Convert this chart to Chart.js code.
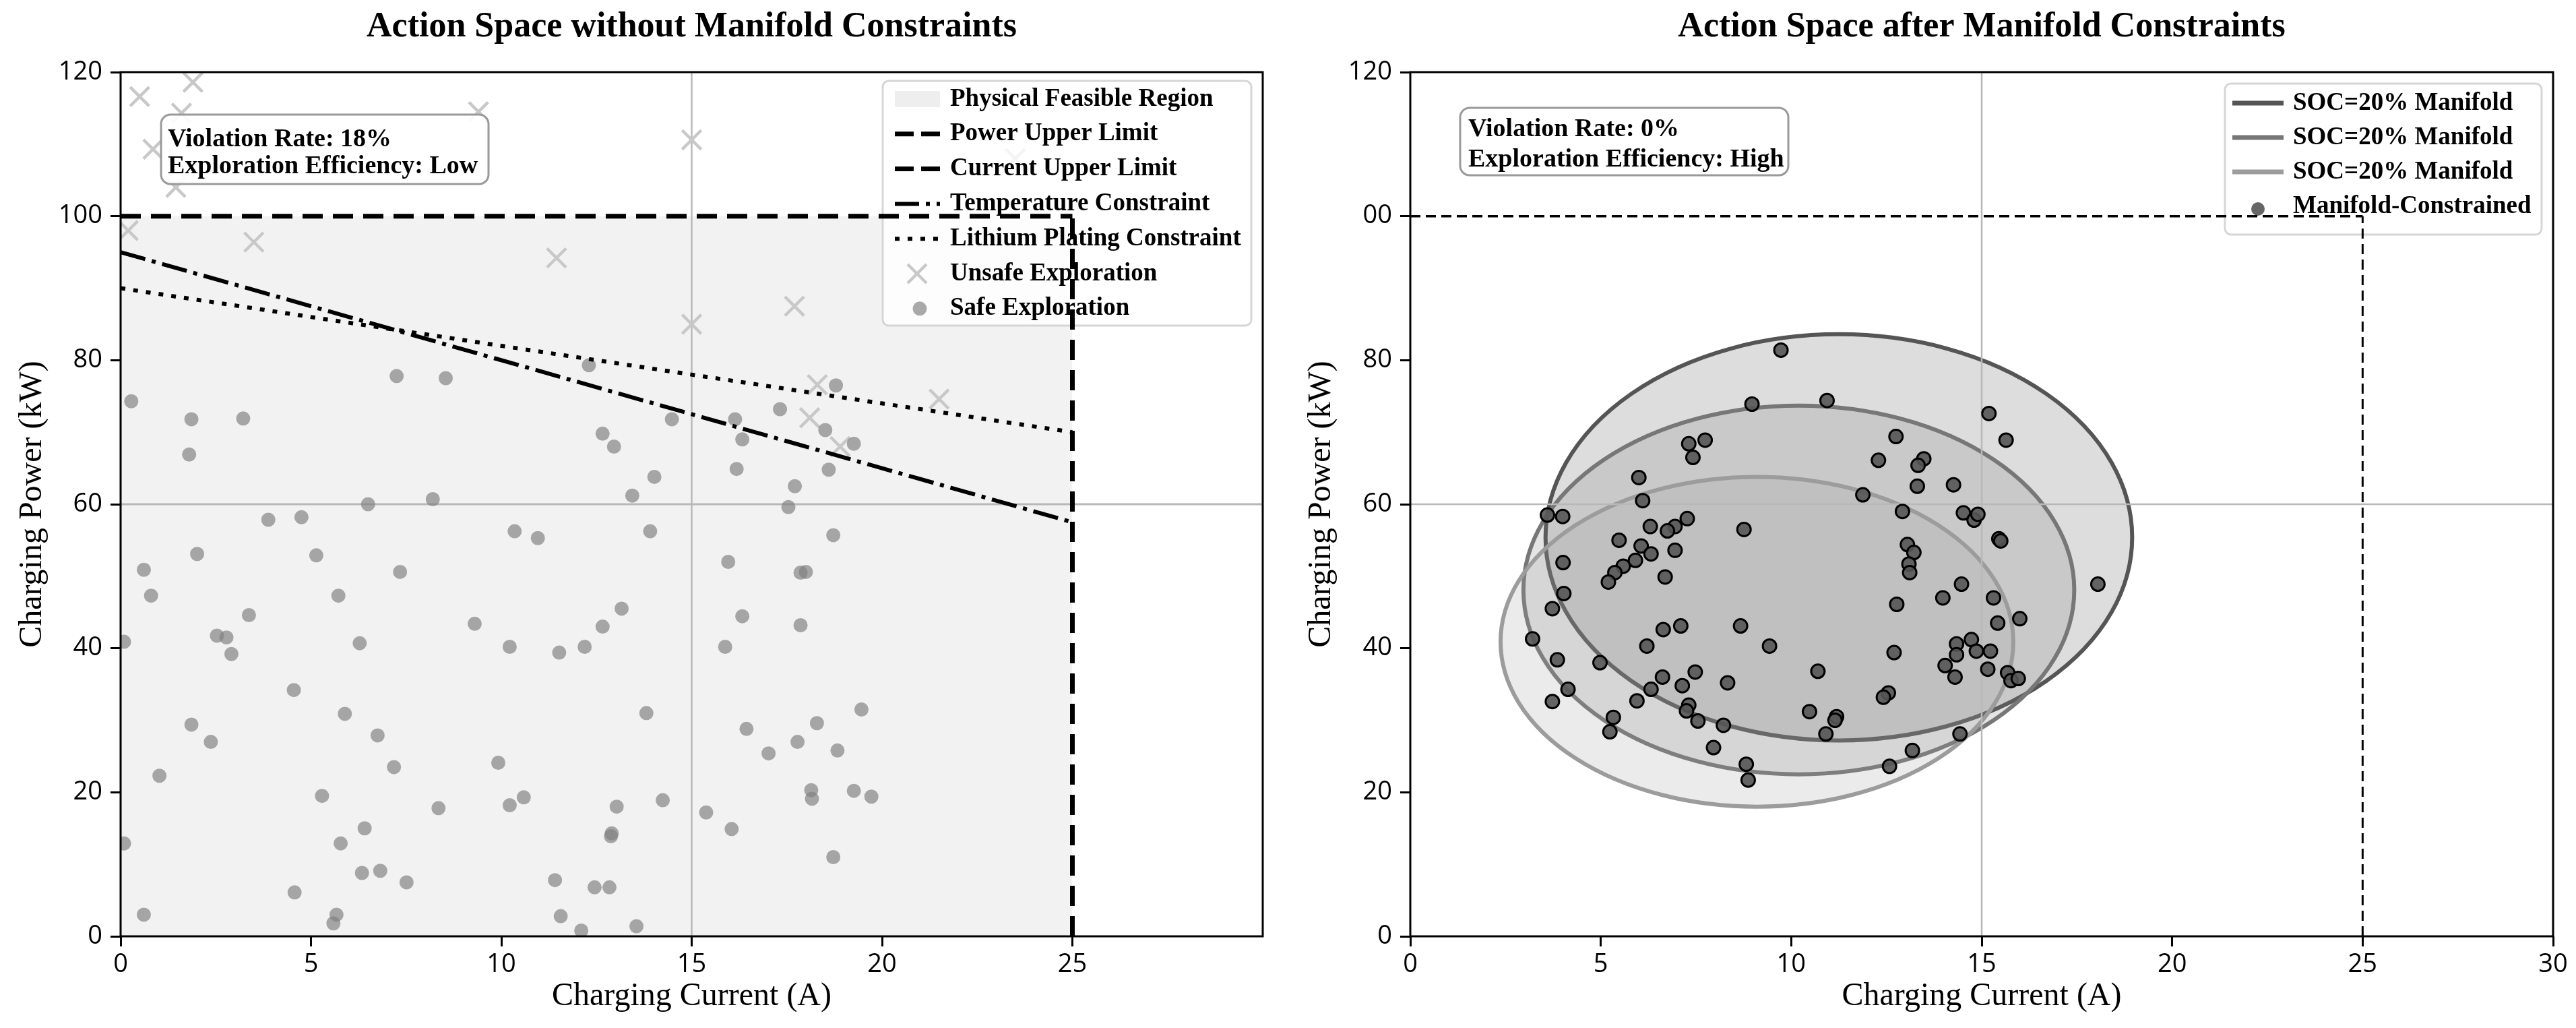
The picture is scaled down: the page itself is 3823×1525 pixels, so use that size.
<!DOCTYPE html>
<html>
<head>
<meta charset="utf-8">
<title>Action Space</title>
<script src="https://cdn.jsdelivr.net/npm/chart.js@4.4.1/dist/chart.umd.min.js"></script>
<style>
  html, body { margin: 0; padding: 0; background: #fff; }
  #wrap { position: relative; width: 3823px; height: 1525px; }
  .panel { position: absolute; top: 0; height: 1525px; }
  #p1 { left: 0; width: 1911px; }
  #p2 { left: 1911px; width: 1912px; }
</style>
</head>
<body>
<div id="wrap">
  <div class="panel" id="p1"><canvas id="chartLeft"></canvas></div>
  <div class="panel" id="p2"><canvas id="chartRight"></canvas></div>
</div>
<script>
// ---- axes ----
const currentTicksLeft = [0, 5, 10, 15, 20, 25];
const currentTicksRight = [0, 5, 10, 15, 20, 25, 30];
const powerTicks = [0, 20, 40, 60, 80, 100, 120];
const powerTickLabelsRight = ['0', '20', '40', '60', '80', '00', '120'];

// ---- left panel: limits / constraints ----
const powerLimit = 100;
const currentLimit = 25;
const constraintCurrent = [0, 25];
const temperaturePower = [95, 57.5];
const lithiumPower = [90, 70];
const refCurrent = 15;
const refPower = 60;

// unsafe exploration (x markers)
const unsafeCurrent = [0.5, 1.9, 1.6, 0.85, 1.45, 0.2, 3.5, 9.4, 15.0, 11.45, 15.0, 17.7, 18.3, 18.1, 18.9, 21.5, 23.5];
const unsafePower   = [116.6, 118.6, 114.3, 109.3, 104.0, 98.0, 96.4, 114.5, 110.6, 94.2, 85.0, 87.5, 76.6, 72.0, 68.0, 74.6, 108.0];

// safe exploration (grey dots)
const safeCurrent = [
  3.88, 4.75, 10.35, 10.96, 13.91, 18.72, 2.01, 5.14, 15.96, 0.61,
  7.34, 17.86, 18.0, 0.80, 5.72, 3.37, 13.16, 16.33, 9.30, 12.66,
  17.86, 2.53, 2.78, 0.09, 6.28, 10.22, 12.19, 15.88, 2.91, 11.52,
  4.55, 5.89, 13.81, 19.46, 1.86, 18.29, 16.44, 6.75, 2.37, 17.78,
  18.83, 17.02, 7.18, 9.92, 1.02, 5.29, 10.59, 10.22, 8.35, 13.03,
  14.24, 18.14, 18.16, 19.26, 19.72, 15.38, 16.05, 6.41, 12.9, 12.88,
  0.09, 5.78, 18.72, 6.34, 6.82, 7.51, 11.41, 12.45, 12.84, 4.57,
  0.61, 5.67, 5.59, 11.56, 12.1, 13.55, 0.28, 1.86, 3.22, 1.80,
  7.25, 8.54, 12.3, 14.48, 12.66, 12.96, 14.02, 13.44, 16.14, 17.32,
  18.79, 16.33, 18.51, 19.26, 16.18, 18.6, 17.71, 6.5, 8.2, 17.54
];
const safePower = [
  57.85, 58.2, 56.25, 55.3, 56.25, 55.7, 53.1, 52.9, 52.0, 50.9,
  50.6, 50.5, 50.6, 47.3, 47.3, 44.6, 45.5, 44.45, 43.4, 43.0,
  43.2, 41.75, 41.5, 40.9, 40.7, 40.2, 40.2, 40.2, 39.2, 39.4,
  34.2, 30.9, 31.0, 31.5, 29.4, 29.6, 28.8, 27.9, 27.0, 27.0,
  25.8, 25.4, 23.5, 24.1, 22.3, 19.5, 19.3, 18.2, 17.8, 18.0,
  18.9, 20.3, 19.1, 20.2, 19.4, 17.2, 14.9, 15.0, 14.3, 13.9,
  12.9, 12.9, 11.0, 8.8, 9.1, 7.5, 7.8, 6.8, 6.8, 6.1,
  3.0, 3.0, 1.8, 2.8, 0.8, 1.4, 74.3, 71.8, 71.9, 66.9,
  77.8, 77.5, 79.3, 71.8, 69.8, 68.0, 63.8, 61.2, 71.8, 73.2,
  76.5, 69.0, 70.3, 68.4, 64.9, 64.8, 62.5, 60.0, 60.7, 59.6
];

// ---- right panel: manifolds (ellipses) ----
const manifoldLabels = ['SOC=20% Manifold', 'SOC=20% Manifold', 'SOC=20% Manifold'];
const manifoldCenterCurrent = [11.25, 10.2, 9.1];
const manifoldCenterPower = [55.4, 48.1, 40.9];
const manifoldHalfWidth = [7.7, 7.23, 6.73];
const manifoldHalfHeight = [28.2, 25.6, 22.9];
const manifoldColors = ['#555555', '#777777', '#9c9c9c'];

// manifold-constrained samples
const constrainedCurrent = [
  9.73, 8.97, 10.94, 15.19, 15.64, 7.31, 7.74, 7.42, 12.75, 12.29,
  13.48, 13.33, 6.0, 13.31, 14.26, 11.88, 6.1, 12.92, 14.52, 14.8,
  14.9, 3.6, 4.0, 7.27, 6.3, 6.95, 6.75, 8.76, 5.48, 15.45,
  15.5, 6.06, 6.32, 6.95, 13.05, 13.22, 4.01, 5.91, 5.59, 5.37,
  5.2, 13.09, 13.11, 6.69, 14.47, 18.05, 4.03, 13.98, 15.31, 12.77,
  3.73, 15.42, 16.0, 7.1, 8.67, 6.64, 3.21, 14.73, 9.43, 6.21,
  14.34, 14.34, 14.86, 15.23, 12.7, 3.86, 4.98, 14.04, 15.16, 10.7,
  7.48, 6.62, 14.3, 15.68, 15.77, 15.96, 6.32, 7.14, 8.33, 4.14,
  12.55, 12.42, 5.95, 3.73, 7.31, 7.25, 10.48, 11.19, 11.15, 5.33,
  7.55, 8.22, 5.24, 10.91, 14.43, 7.96, 13.18, 8.82, 12.58, 8.87
];
const constrainedPower = [
  81.4, 73.9, 74.4, 72.6, 68.9, 68.4, 68.9, 66.5, 69.4, 66.1,
  66.3, 65.4, 63.7, 62.5, 62.7, 61.3, 60.5, 59.0, 58.8, 57.8,
  58.6, 58.5, 58.3, 58.0, 56.9, 56.9, 56.3, 56.5, 55.0, 55.2,
  54.9, 54.2, 53.1, 53.6, 54.4, 53.3, 51.9, 52.2, 51.4, 50.5,
  49.2, 51.7, 50.5, 49.9, 48.9, 48.9, 47.6, 47.0, 47.0, 46.1,
  45.5, 43.5, 44.1, 43.1, 43.1, 42.6, 41.3, 41.2, 40.3, 40.3,
  40.6, 39.1, 39.6, 39.6, 39.4, 38.4, 38.0, 37.6, 37.1, 36.8,
  36.7, 36.0, 36.0, 36.6, 35.5, 35.8, 34.3, 34.8, 35.2, 34.3,
  33.8, 33.2, 32.7, 32.6, 32.1, 31.3, 31.2, 30.5, 30.0, 30.4,
  29.9, 29.3, 28.4, 28.1, 28.1, 26.2, 25.8, 23.9, 23.6, 21.7
];

// ---------------------------------------------------------------
const serif = "'Liberation Serif', 'Times New Roman', serif";
const sans = "'Open Sans', 'Noto Sans', sans-serif";
Chart.defaults.font.family = sans;
Chart.defaults.color = '#000';

const pts = (xs, ys) => xs.map((x, i) => ({ x: x, y: ys[i] }));
const segment = (x0, y0, x1, y1) => [{ x: x0, y: y0 }, { x: x1, y: y1 }];

function roundBox(ctx, x, y, w, h, r, fill, stroke, lw) {
  ctx.save();
  ctx.beginPath();
  ctx.roundRect(x, y, w, h, r);
  ctx.fillStyle = fill;
  ctx.fill();
  ctx.lineWidth = lw;
  ctx.strokeStyle = stroke;
  ctx.stroke();
  ctx.restore();
}

function drawHandle(ctx, it, x0, x1, y) {
  ctx.save();
  const xm = it.markerX != null ? it.markerX : (x0 + x1) / 2;
  if (it.kind === 'patch') {
    ctx.fillStyle = it.color;
    ctx.fillRect(x0, y - 12, x1 - x0, 24);
  } else if (it.kind === 'line') {
    ctx.strokeStyle = it.color;
    ctx.lineWidth = it.width;
    ctx.setLineDash(it.dash || []);
    ctx.beginPath();
    ctx.moveTo(x0, y);
    ctx.lineTo(x1, y);
    ctx.stroke();
  } else if (it.kind === 'cross') {
    const r = 14;
    ctx.strokeStyle = it.color;
    ctx.lineWidth = 4.5;
    ctx.beginPath();
    ctx.moveTo(xm - r, y - r); ctx.lineTo(xm + r, y + r);
    ctx.moveTo(xm - r, y + r); ctx.lineTo(xm + r, y - r);
    ctx.stroke();
  } else if (it.kind === 'dot') {
    ctx.beginPath();
    ctx.arc(xm, y + (it.dy || 0), it.r || 10.5, 0, Math.PI * 2);
    ctx.fillStyle = it.color;
    ctx.fill();
    if (it.edge) { ctx.lineWidth = 3; ctx.strokeStyle = it.edge; ctx.stroke(); }
  }
  ctx.restore();
}

function drawLegend(ctx, lg) {
  const [bx, by, bw, bh] = lg.box;
  roundBox(ctx, bx, by, bw, bh, 9, 'rgba(255,255,255,0.8)', '#d6d6d6', 3);
  ctx.save();
  ctx.font = 'bold 37px ' + serif;
  ctx.fillStyle = '#000';
  ctx.textBaseline = 'middle';
  ctx.textAlign = 'left';
  lg.items.forEach((it, i) => {
    const y = lg.rowY + i * lg.rowGap;
    drawHandle(ctx, it, lg.handleX[0], lg.handleX[1], y);
    ctx.fillText(it.label, lg.textX, y);
  });
  ctx.restore();
}

function drawNote(ctx, note) {
  const [bx, by, bw, bh] = note.box;
  roundBox(ctx, bx, by, bw, bh, 14, 'rgba(255,255,255,0.92)', '#9a9a9a', 3);
  ctx.save();
  ctx.font = 'bold 38px ' + serif;
  ctx.fillStyle = '#000';
  ctx.textBaseline = 'middle';
  note.lines.forEach((t, i) => ctx.fillText(t, note.textX, note.lineY[i]));
  ctx.restore();
}

// frame (all four spines) and panel title
const framePlugin = {
  id: 'frame',
  afterDraw(chart) {
    const { ctx, chartArea: a } = chart;
    ctx.save();
    ctx.lineWidth = 3;
    ctx.strokeStyle = '#000';
    ctx.strokeRect(a.left, a.top, a.right - a.left, a.bottom - a.top);
    ctx.font = 'bold 52px ' + serif;
    ctx.textAlign = 'center';
    ctx.textBaseline = 'middle';
    ctx.fillStyle = '#000';
    ctx.fillText(chart.options.plugins.frame.title, (a.left + a.right) / 2, 41);
    ctx.restore();
  }
};

// legend + annotation, drawn right after the dataset flagged overlayAfter
const overlayPlugin = {
  id: 'overlay',
  afterDatasetDraw(chart, args, opts) {
    if (!chart.data.datasets[args.index].overlayAfter) return;
    drawLegend(chart.ctx, opts.legend);
    drawNote(chart.ctx, opts.note);
  }
};

// manifold ellipses, through the chart scales
const manifoldPlugin = {
  id: 'manifolds',
  beforeDatasetsDraw(chart) {
    const { ctx, chartArea: a, scales } = chart;
    const xs = scales.x, ys = scales.y;
    ctx.save();
    ctx.beginPath();
    ctx.rect(a.left, a.top, a.right - a.left, a.bottom - a.top);
    ctx.clip();
    manifoldCenterCurrent.forEach((c, i) => {
      const cx = xs.getPixelForValue(c);
      const cy = ys.getPixelForValue(manifoldCenterPower[i]);
      const rx = Math.abs(xs.getPixelForValue(c + manifoldHalfWidth[i]) - cx);
      const ry = Math.abs(cy - ys.getPixelForValue(manifoldCenterPower[i] + manifoldHalfHeight[i]));
      ctx.beginPath();
      ctx.ellipse(cx, cy, rx, ry, 0, 0, Math.PI * 2);
      ctx.globalAlpha = 0.2;
      ctx.fillStyle = manifoldColors[i];
      ctx.fill();
      ctx.globalAlpha = 1;
      ctx.lineWidth = 6;
      ctx.strokeStyle = manifoldColors[i];
      ctx.stroke();
    });
    ctx.restore();
  }
};

function axes(xTicks, yWidth, yTitlePad, yLabels) {
  const tickGrid = { drawOnChartArea: false, drawTicks: true, tickLength: 15, tickWidth: 3, tickColor: '#000' };
  return {
    x: {
      type: 'linear', min: 0, max: 30,
      afterBuildTicks: s => { s.ticks = xTicks.map(v => ({ value: v })); },
      afterFit: s => { s.height = 136; },
      border: { display: false },
      grid: tickGrid,
      ticks: { font: { size: 38 }, padding: 4, maxRotation: 0, autoSkip: false },
      title: { display: true, text: 'Charging Current (A)', font: { family: serif, size: 48 }, padding: { top: 0, bottom: 18 } }
    },
    y: {
      type: 'linear', min: 0, max: 120,
      afterBuildTicks: s => { s.ticks = powerTicks.map(v => ({ value: v })); },
      afterFit: s => { s.width = yWidth; },
      border: { display: false },
      grid: tickGrid,
      ticks: {
        font: { size: 38 }, padding: 12, autoSkip: false,
        callback: (v, i) => yLabels ? yLabels[i] : String(v)
      },
      title: { display: true, text: 'Charging Power (kW)', font: { family: serif, size: 48 }, padding: { top: yTitlePad, bottom: 0 } }
    }
  };
}

const lineStyle = { type: 'line', showLine: true, pointRadius: 0, fill: false, tension: 0 };

// ---- left: without manifold constraints ----
new Chart(document.getElementById('chartLeft'), {
  type: 'scatter',
  data: {
    datasets: [
      Object.assign({}, lineStyle, {
        data: segment(0, powerLimit, currentLimit, powerLimit),
        fill: 'origin', backgroundColor: '#f2f2f2', borderWidth: 0, order: 10
      }),
      Object.assign({}, lineStyle, { data: segment(refCurrent, 0, refCurrent, 120), borderColor: '#b8b8b8', borderWidth: 2.5, order: 9 }),
      Object.assign({}, lineStyle, { data: segment(0, refPower, 30, refPower), borderColor: '#b8b8b8', borderWidth: 3, order: 9 }),
      {
        data: pts(unsafeCurrent, unsafePower), pointStyle: 'crossRot', pointRadius: 20,
        borderColor: '#c8c8c8', borderWidth: 4.5, order: 8
      },
      {
        data: pts(safeCurrent, safePower), pointStyle: 'circle', pointRadius: 10.5,
        backgroundColor: 'rgba(128,128,128,0.68)', borderWidth: 0, order: 7, overlayAfter: true
      },
      Object.assign({}, lineStyle, { data: segment(0, powerLimit, currentLimit, powerLimit), borderColor: '#000', borderWidth: 7, borderDash: [30, 15], order: 4 }),
      Object.assign({}, lineStyle, { data: segment(currentLimit, 0, currentLimit, powerLimit), borderColor: '#000', borderWidth: 7, borderDash: [30, 15], order: 3 }),
      Object.assign({}, lineStyle, { data: pts(constraintCurrent, temperaturePower), borderColor: '#000', borderWidth: 6, borderDash: [38, 10, 6, 10], order: 2 }),
      Object.assign({}, lineStyle, { data: pts(constraintCurrent, lithiumPower), borderColor: '#000', borderWidth: 6, borderDash: [7, 12], order: 1 })
    ]
  },
  options: {
    responsive: true, maintainAspectRatio: false, devicePixelRatio: 1,
    animation: false, events: [],
    layout: { padding: { top: 107, right: 37, bottom: 0, left: 0 } },
    scales: axes(currentTicksLeft, 179, 20, null),
    plugins: {
      legend: { display: false },
      tooltip: { enabled: false },
      frame: { title: 'Action Space without Manifold Constraints' },
      overlay: {
        legend: {
          box: [1310, 120, 547, 363], rowY: 147, rowGap: 51.8, handleX: [1328, 1395], textX: 1410,
          items: [
            { label: 'Physical Feasible Region', kind: 'patch', color: '#eeeeee' },
            { label: 'Power Upper Limit', kind: 'line', color: '#000', width: 7, dash: [28, 11] },
            { label: 'Current Upper Limit', kind: 'line', color: '#000', width: 7, dash: [28, 11] },
            { label: 'Temperature Constraint', kind: 'line', color: '#000', width: 6, dash: [36, 10, 6, 10] },
            { label: 'Lithium Plating Constraint', kind: 'line', color: '#000', width: 6, dash: [7, 12] },
            { label: 'Unsafe Exploration', kind: 'cross', color: '#c8c8c8', markerX: 1361 },
            { label: 'Safe Exploration', kind: 'dot', color: 'rgba(128,128,128,0.68)', markerX: 1365 }
          ]
        },
        note: {
          box: [239, 170, 486, 103], textX: 249, lineY: [207, 247],
          lines: ['Violation Rate: 18%', 'Exploration Efficiency: Low']
        }
      }
    }
  },
  plugins: [framePlugin, overlayPlugin]
});

// ---- right: after manifold constraints ----
new Chart(document.getElementById('chartRight'), {
  type: 'scatter',
  data: {
    datasets: [
      Object.assign({}, lineStyle, { data: segment(refCurrent, 0, refCurrent, 120), borderColor: '#b8b8b8', borderWidth: 2.5, order: 9 }),
      Object.assign({}, lineStyle, { data: segment(0, refPower, 30, refPower), borderColor: '#b8b8b8', borderWidth: 2.5, order: 9 }),
      {
        data: pts(constrainedCurrent, constrainedPower), pointStyle: 'circle', pointRadius: 10,
        backgroundColor: 'rgba(85,85,85,0.9)', borderColor: '#000', borderWidth: 3, order: 5, overlayAfter: true
      },
      Object.assign({}, lineStyle, { data: segment(0, powerLimit, currentLimit, powerLimit), borderColor: '#000', borderWidth: 3.5, borderDash: [15, 8], order: 2 }),
      Object.assign({}, lineStyle, { data: segment(currentLimit, 0, currentLimit, powerLimit), borderColor: '#000', borderWidth: 3, borderDash: [15, 8], order: 1 })
    ]
  },
  options: {
    responsive: true, maintainAspectRatio: false, devicePixelRatio: 1,
    animation: false, events: [],
    layout: { padding: { top: 107, right: 34, bottom: 0, left: 0 } },
    scales: axes(currentTicksRight, 182, 22, powerTickLabelsRight),
    plugins: {
      legend: { display: false },
      tooltip: { enabled: false },
      frame: { title: 'Action Space after Manifold Constraints' },
      overlay: {
        legend: {
          box: [1391, 124, 470, 224], rowY: 153, rowGap: 51, handleX: [1402, 1478], textX: 1492,
          items: [
            { label: manifoldLabels[0], kind: 'line', color: manifoldColors[0], width: 7 },
            { label: manifoldLabels[1], kind: 'line', color: manifoldColors[1], width: 7 },
            { label: manifoldLabels[2], kind: 'line', color: manifoldColors[2], width: 7 },
            { label: 'Manifold-Constrained', kind: 'dot', color: 'rgba(85,85,85,0.9)', r: 10, dy: 4, markerX: 1440 }
          ]
        },
        note: {
          box: [256, 160, 487, 100], textX: 268, lineY: [192, 237],
          lines: ['Violation Rate: 0%', 'Exploration Efficiency: High']
        }
      }
    }
  },
  plugins: [framePlugin, manifoldPlugin, overlayPlugin]
});
</script>
</body>
</html>
